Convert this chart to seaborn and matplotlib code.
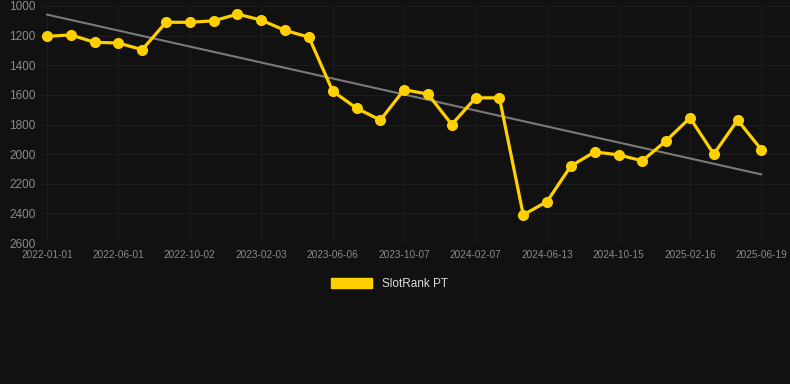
import numpy as np
import pandas as pd
import matplotlib
matplotlib.use("Agg")
import matplotlib.pyplot as plt
import seaborn as sns
from matplotlib.patches import Patch

# Tick labels (every third point)
tick_labels = ["2022-01-01", "2022-06-01", "2022-10-02", "2023-02-03", "2023-06-06",
               "2023-10-07", "2024-02-07", "2024-06-13", "2024-10-15", "2025-02-16",
               "2025-06-19"]

# Rank values
ranks = [1205, 1195, 1245, 1250, 1295, 1110, 1110, 1100, 1055, 1095,
         1165, 1210, 1575, 1690, 1770, 1565, 1595, 1800, 1620, 1620,
         2410, 2320, 2080, 1985, 2005, 2045, 1910, 1755, 2000, 1770,
         1970]

df = pd.DataFrame({"idx": np.arange(len(ranks)), "rank": ranks})

bg = "#111111"
gold = "#FFD000"

sns.set_style("dark")
plt.rcParams["font.family"] = ["Liberation Sans", "DejaVu Sans"]

fig = plt.figure(figsize=(7.9, 3.84), dpi=100, facecolor=bg)
ax = fig.add_axes([40 / 790, 1 - 243 / 384, 750 / 790, 237 / 384])
ax.set_facecolor(bg)

# Trend line (linear fit)
coef = np.polyfit(df["idx"], df["rank"], 1)
trend = np.polyval(coef, df["idx"])
ax.plot(df["idx"], trend, color="#7a7a7a", lw=1.5, zorder=2)

sns.lineplot(data=df, x="idx", y="rank", ax=ax, color=gold, lw=2.3,
             marker="o", markersize=8, markeredgewidth=0, zorder=3)

ax.set_ylim(2600, 1000)
ax.set_xlim(-0.29, 31.2)
ax.set_yticks(range(1000, 2601, 200))
ax.set_xticks(df["idx"][::3])
ax.set_xticklabels(tick_labels)
ax.tick_params(axis="y", colors="#8a8a8a", labelsize=8.5, length=0, pad=3)
ax.tick_params(axis="x", colors="#8a8a8a", labelsize=7.2, length=0, pad=5)
ax.grid(True, color="#1d1d1d", lw=0.8)
ax.set_xlabel("")
ax.set_ylabel("")
for s in ax.spines.values():
    s.set_visible(False)
ax.axhline(2600, color="#262626", lw=1)

fig.legend(handles=[Patch(color=gold, label="SlotRank PT")],
           loc="center", bbox_to_anchor=(0.493, 1 - 284 / 384), frameon=False,
           handlelength=3.5, handleheight=1.0, fontsize=8.5, labelcolor="#dddddd")

fig.savefig("out.png", dpi=100, facecolor=bg)
